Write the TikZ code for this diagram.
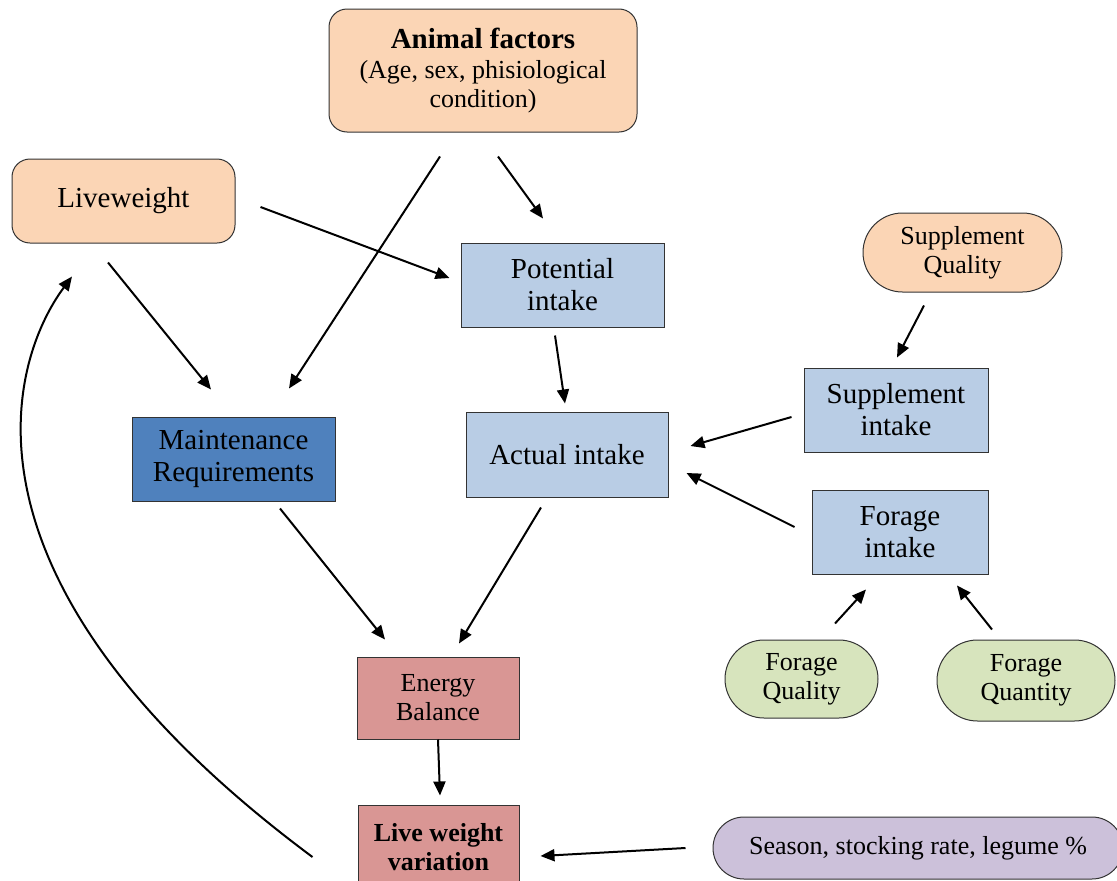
\documentclass[tikz,border=0pt]{standalone}
\usepackage{fontspec}
\setmainfont{Liberation Serif}
\usetikzlibrary{arrows.meta,shapes.misc}
\definecolor{peach}{HTML}{FBD5B5}
\definecolor{paleblue}{HTML}{B9CDE5}
\definecolor{midblue}{HTML}{4F81BD}
\definecolor{palegreen}{HTML}{D7E4BD}
\definecolor{rose}{HTML}{D99694}
\definecolor{lavender}{HTML}{CCC1DA}
\newcommand{\bigtxt}{\fontsize{29}{32}\selectfont}
\newcommand{\smalltxt}{\fontsize{26}{29}\selectfont}
\begin{document}
\begin{tikzpicture}[x=1pt,y=-1pt,
		box/.style={draw=black!80,line width=1pt,align=center,inner sep=0pt,font=\bigtxt},
		warm/.style={box,rounded corners=18pt,fill=peach},
		blue/.style={box,fill=paleblue},
		pill/.style={box,rounded rectangle,font=\smalltxt},
		arr/.style={-{Triangle[length=14pt,width=12pt]},line width=2pt}]
	\useasboundingbox (0,0) rectangle (1117,881);
	% boxes
	\node[warm,minimum width=308,minimum height=123,font=\smalltxt] (animal) at (483,70.5)
		{{\bigtxt\bfseries Animal factors}\\[1pt](Age, sex, phisiological\\condition)};
	\node[warm,minimum width=223,minimum height=84] (liveweight) at (123.5,201) {Liveweight};
	\node[blue,minimum width=203,minimum height=84] (potential) at (562.5,285) {Potential\\intake};
	\node[pill,fill=peach,minimum width=199,minimum height=79] (suppqual) at (962.5,252.5) {Supplement\\Quality};
	\node[blue,minimum width=184,minimum height=84] (suppint) at (896,410) {Supplement\\intake};
	\node[box,fill=midblue,minimum width=203,minimum height=84] (maint) at (233.5,459) {Maintenance\\Requirements};
	\node[blue,minimum width=202,minimum height=85] (actual) at (567,454.5) {Actual intake};
	\node[blue,minimum width=176,minimum height=84] (forage) at (900,532) {Forage\\intake};
	\node[pill,fill=palegreen,minimum width=153,minimum height=78] (forqual) at (801.5,679) {Forage\\Quality};
	\node[pill,fill=palegreen,minimum width=178,minimum height=81] (forquant) at (1026,680.5) {Forage\\Quantity};
	\node[box,fill=rose,font=\smalltxt,minimum width=162,minimum height=82] (energy) at (438,698) {Energy\\Balance};
	\node[box,fill=rose,font=\smalltxt\bfseries,minimum width=161,minimum height=84] (lwv) at (438.5,847) {Live weight\\variation};
	\node[pill,fill=lavender,minimum width=410,minimum height=62] (season) at (918,848) {Season, stocking rate, legume \%};
	% arrows
	\draw[arr] ([xshift=15pt,yshift=-24pt]animal.south) -- ([xshift=-19.5pt,yshift=24pt]potential.north);
	\draw[arr] ([xshift=-43pt,yshift=-24pt]animal.south) -- ([xshift=55.5pt,yshift=28pt]maint.north);
	\draw[arr] ([xshift=25pt,yshift=-6pt]liveweight.east) -- ([xshift=-11pt,yshift=7pt]potential.west);
	\draw[arr] ([xshift=-15.5pt,yshift=-19pt]liveweight.south) -- ([xshift=-22.5pt,yshift=27pt]maint.north);
	\draw[arr] ([xshift=-7.5pt,yshift=-8pt]potential.south) -- ([xshift=-2pt,yshift=8pt]actual.north);
	\draw[arr] ([xshift=-38.5pt,yshift=-13pt]suppqual.south) -- ([xshift=1pt,yshift=10pt]suppint.north);
	\draw[arr] ([xshift=-12pt,yshift=-7pt]suppint.west) -- ([xshift=22pt,yshift=8.5pt]actual.east);
	\draw[arr] ([xshift=-17pt,yshift=5pt]forage.west) -- ([xshift=18pt,yshift=-18.5pt]actual.east);
	\draw[arr] ([xshift=33.5pt,yshift=16pt]forqual.north) -- ([xshift=-34pt,yshift=-15pt]forage.south);
	\draw[arr] ([xshift=-34pt,yshift=10pt]forquant.north) -- ([xshift=57pt,yshift=-11pt]forage.south);
	\draw[arr] ([xshift=46.5pt,yshift=-7pt]maint.south) -- ([xshift=-53pt,yshift=17pt]energy.north);
	\draw[arr] ([xshift=-26pt,yshift=-10pt]actual.south) -- ([xshift=21pt,yshift=13pt]energy.north);
	\draw[arr] (energy.south) -- ([xshift=1.5pt,yshift=9pt]lwv.north);
	\draw[arr] ([xshift=-27pt]season.west) -- ([xshift=21pt,yshift=-9pt]lwv.east);
	% feedback loop
	\draw[arr] ([xshift=-45pt,yshift=-10pt]lwv.west) .. controls (-60,580) and (10,360) .. ([xshift=-51.5pt,yshift=-33pt]liveweight.south);
\end{tikzpicture}
\end{document}
